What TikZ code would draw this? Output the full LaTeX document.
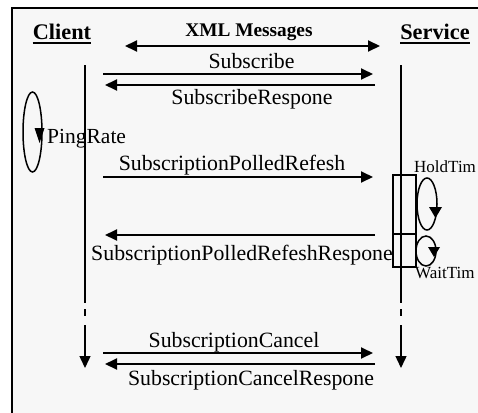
\documentclass[tikz,border=0pt]{standalone}
\usepackage{fontspec}
\setmainfont{Liberation Serif}
\usetikzlibrary{arrows.meta}
\tikzset{
  tip/.tip={Triangle[length=12pt,width=11pt]},
  msg/.style={line width=1.9pt, -tip},
  life/.style={line width=1.4pt},
  lbl/.style={anchor=base, inner sep=0pt, font=\fontsize{21.8}{22}\selectfont},
  lblw/.style={anchor=base west, inner sep=0pt, font=\fontsize{21.5}{22}\selectfont},
  head/.style={anchor=base, inner sep=0pt, font=\fontsize{22.3}{22}\selectfont\bfseries},
  timer/.style={anchor=base west, inner sep=0pt, font=\fontsize{17}{17}\selectfont},
  loopline/.style={line width=1.5pt},
}
\begin{document}
\begin{tikzpicture}[x=1pt,y=-1pt]
\useasboundingbox (0,0) rectangle (478,412);
\clip (0,0) rectangle (478,412);
% outer frame
\draw[line width=2pt, fill=gray!6] (12,8) rectangle (500,440);

% headings
\node[head] (client) at (62,40) {Client};
\draw[line width=1.5pt] ([yshift=-3pt]client.base west) -- ([yshift=-3pt]client.base east);
\node[head] (service) at (435,40) {Service};
\draw[line width=1.5pt] ([yshift=-3pt]service.base west) -- ([yshift=-3pt]service.base east);
\node[anchor=base, inner sep=0pt, font=\fontsize{19.3}{19}\selectfont\bfseries] (xml) at (249,37) {XML Messages};
\coordinate (xmlL) at (125,46);
\coordinate (xmlR) at (380,46);
\draw[line width=1.9pt, tip-tip] (xmlL) -- (xmlR);

% client lifeline
\coordinate (cTop) at (85,65);
\coordinate (cBrkA) at (85,303);
\coordinate (cDashA) at (85,309);
\coordinate (cDashB) at (85,316);
\coordinate (cBrkB) at (85,325);
\coordinate (cEnd) at (85,368);
\draw[life] (cTop) -- (cBrkA);
\draw[life] (cDashA) -- (cDashB);
\draw[life, -tip] (cBrkB) -- (cEnd);

% service activation box
\draw[line width=1.4pt] (393,175) rectangle (416,267);
\draw[line width=1.4pt] (393,234) -- (416,234);

% service lifeline
\coordinate (sTop) at (401,65);
\coordinate (sBrkA) at (401,303);
\coordinate (sDashA) at (401,309);
\coordinate (sDashB) at (401,316);
\coordinate (sBrkB) at (401,325);
\coordinate (sEnd) at (401,368);
\draw[life] (sTop) -- (sBrkA);
\draw[life] (sDashA) -- (sDashB);
\draw[life, -tip] (sBrkB) -- (sEnd);

% timers
\draw[loopline] (32.5,132) ellipse [x radius=9.5, y radius=40];
\fill (34.5,128) -- (44.5,128) -- (39.5,143) -- cycle;
\node[lblw] (ping) at (47,143) {PingRate};

\draw[loopline] (427,204) ellipse [x radius=10, y radius=26];
\fill (429,207) -- (442,207) -- (435.5,218) -- cycle;
\node[timer] (hold) at (414,172) {HoldTim};

\draw[loopline] (426,251) ellipse [x radius=10, y radius=15];
\fill (428,247) -- (440,247) -- (434,257) -- cycle;
\node[timer] (wait) at (415,278) {WaitTim};

% messages
\coordinate (m1a) at (103,74);  \coordinate (m1b) at (373,74);
\coordinate (m2a) at (375,85);  \coordinate (m2b) at (105,85);
\coordinate (m3a) at (103,177); \coordinate (m3b) at (373,177);
\coordinate (m4a) at (375,235); \coordinate (m4b) at (105,235);
\coordinate (m5a) at (103,353); \coordinate (m5b) at (373,353);
\coordinate (m6a) at (375,364); \coordinate (m6b) at (105,364);
\draw[msg] (m1a) -- (m1b);
\draw[msg] (m2a) -- (m2b);
\draw[msg] (m3a) -- (m3b);
\draw[msg] (m4a) -- (m4b);
\draw[msg] (m5a) -- (m5b);
\draw[msg] (m6a) -- (m6b);

\node[lbl] (l1) at (251.5,68) {Subscribe};
\node[lbl] (l2) at (252,104) {SubscribeRespone};
\node[lbl] (l3) at (232,170) {SubscriptionPolledRefesh};
\node[lbl] (l4) at (242,260) {SubscriptionPolledRefeshRespone};
\node[lbl] (l5) at (234,347) {SubscriptionCancel};
\node[lbl] (l6) at (251,385) {SubscriptionCancelRespone};
\end{tikzpicture}
\end{document}
